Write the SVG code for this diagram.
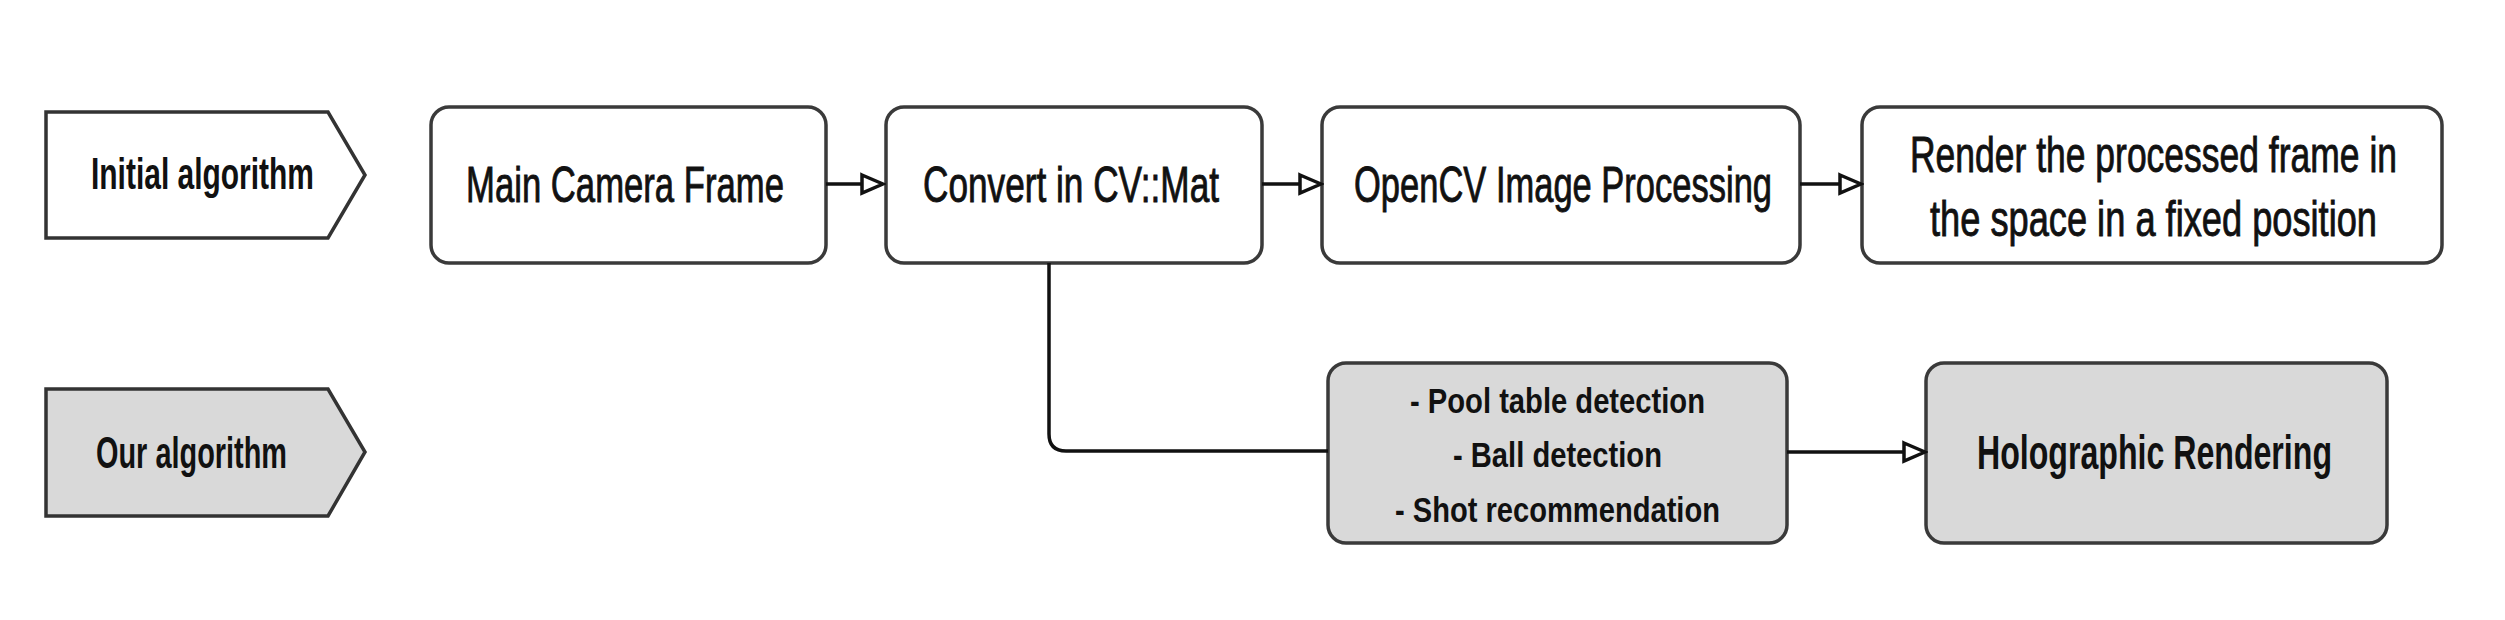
<svg xmlns="http://www.w3.org/2000/svg" width="2505" height="620" viewBox="0 0 2505 620">
<style>
.bg{fill:#ffffff}
.label{fill:#ffffff;stroke:#333333;stroke-width:3.5}
.label.gray{fill:#d9d9d9}
.box{fill:#ffffff;stroke:#3a3a3a;stroke-width:3.5}
.box.gray{fill:#d9d9d9}
.conn{fill:none;stroke:#111111;stroke-width:3.5}
text{font-family:"Liberation Sans",Arial,sans-serif;fill:#111111}
.lt{font-size:44px;font-weight:bold}
.bt{font-size:50px;stroke:#111111;stroke-width:0.9}
.ht{font-size:48px;font-weight:bold}
.st{font-size:35px;font-weight:bold}
</style>
<defs>
<marker id="arrow" markerUnits="userSpaceOnUse" viewBox="0 0 26 24" markerWidth="26" markerHeight="24" refX="2" refY="12" orient="auto">
<path d="M2,3 L23,12 L2,21 Z" fill="#ffffff" stroke="#111111" stroke-width="3.5" stroke-linejoin="miter"/>
</marker>
</defs>
<rect class="bg" x="0" y="0" width="2505" height="620"/>
<g id="label-initial">
<polygon class="label" points="46,112 328,112 365,175 328,238 46,238"/>
<text class="lt" x="91" y="189" textLength="223" lengthAdjust="spacingAndGlyphs">Initial algorithm</text>
</g>
<g id="label-our">
<polygon class="label gray" points="46,389 328,389 365,452 328,516 46,516"/>
<text class="lt" x="96" y="468" textLength="191" lengthAdjust="spacingAndGlyphs">Our algorithm</text>
</g>
<g id="node-main-camera">
<rect class="box" x="431" y="107" width="395" height="156" rx="18"/>
<text class="bt" x="466" y="202" textLength="318" lengthAdjust="spacingAndGlyphs">Main Camera Frame</text>
</g>
<g id="node-convert">
<rect class="box" x="886" y="107" width="376" height="156" rx="18"/>
<text class="bt" x="923" y="202" textLength="296" lengthAdjust="spacingAndGlyphs">Convert in CV::Mat</text>
</g>
<g id="node-opencv">
<rect class="box" x="1322" y="107" width="478" height="156" rx="18"/>
<text class="bt" x="1354" y="202" textLength="418" lengthAdjust="spacingAndGlyphs">OpenCV Image Processing</text>
</g>
<g id="node-render">
<rect class="box" x="1862" y="107" width="580" height="156" rx="18"/>
<text class="bt" x="1910" y="172" textLength="487" lengthAdjust="spacingAndGlyphs">Render the processed frame in</text>
<text class="bt" x="1930" y="236" textLength="447" lengthAdjust="spacingAndGlyphs">the space in a fixed position</text>
</g>
<g id="node-detection">
<rect class="box gray" x="1328" y="363" width="459" height="180" rx="18"/>
<text class="st" x="1410" y="413" textLength="295" lengthAdjust="spacingAndGlyphs">- Pool table detection</text>
<text class="st" x="1453" y="467" textLength="209" lengthAdjust="spacingAndGlyphs">- Ball detection</text>
<text class="st" x="1395" y="522" textLength="325" lengthAdjust="spacingAndGlyphs">- Shot recommendation</text>
</g>
<g id="node-holographic">
<rect class="box gray" x="1926" y="363" width="461" height="180" rx="18"/>
<text class="ht" x="1977" y="469" textLength="355" lengthAdjust="spacingAndGlyphs">Holographic Rendering</text>
</g>
<g id="connectors">
<path class="conn" d="M826,184 L862,184" marker-end="url(#arrow)"/>
<path class="conn" d="M1262,184 L1300,184" marker-end="url(#arrow)"/>
<path class="conn" d="M1800,184 L1840,184" marker-end="url(#arrow)"/>
<path class="conn" d="M1049,263 L1049,434 Q1049,451 1066,451 L1328,451"/>
<path class="conn" d="M1787,452 L1904,452" marker-end="url(#arrow)"/>
</g>
</svg>
